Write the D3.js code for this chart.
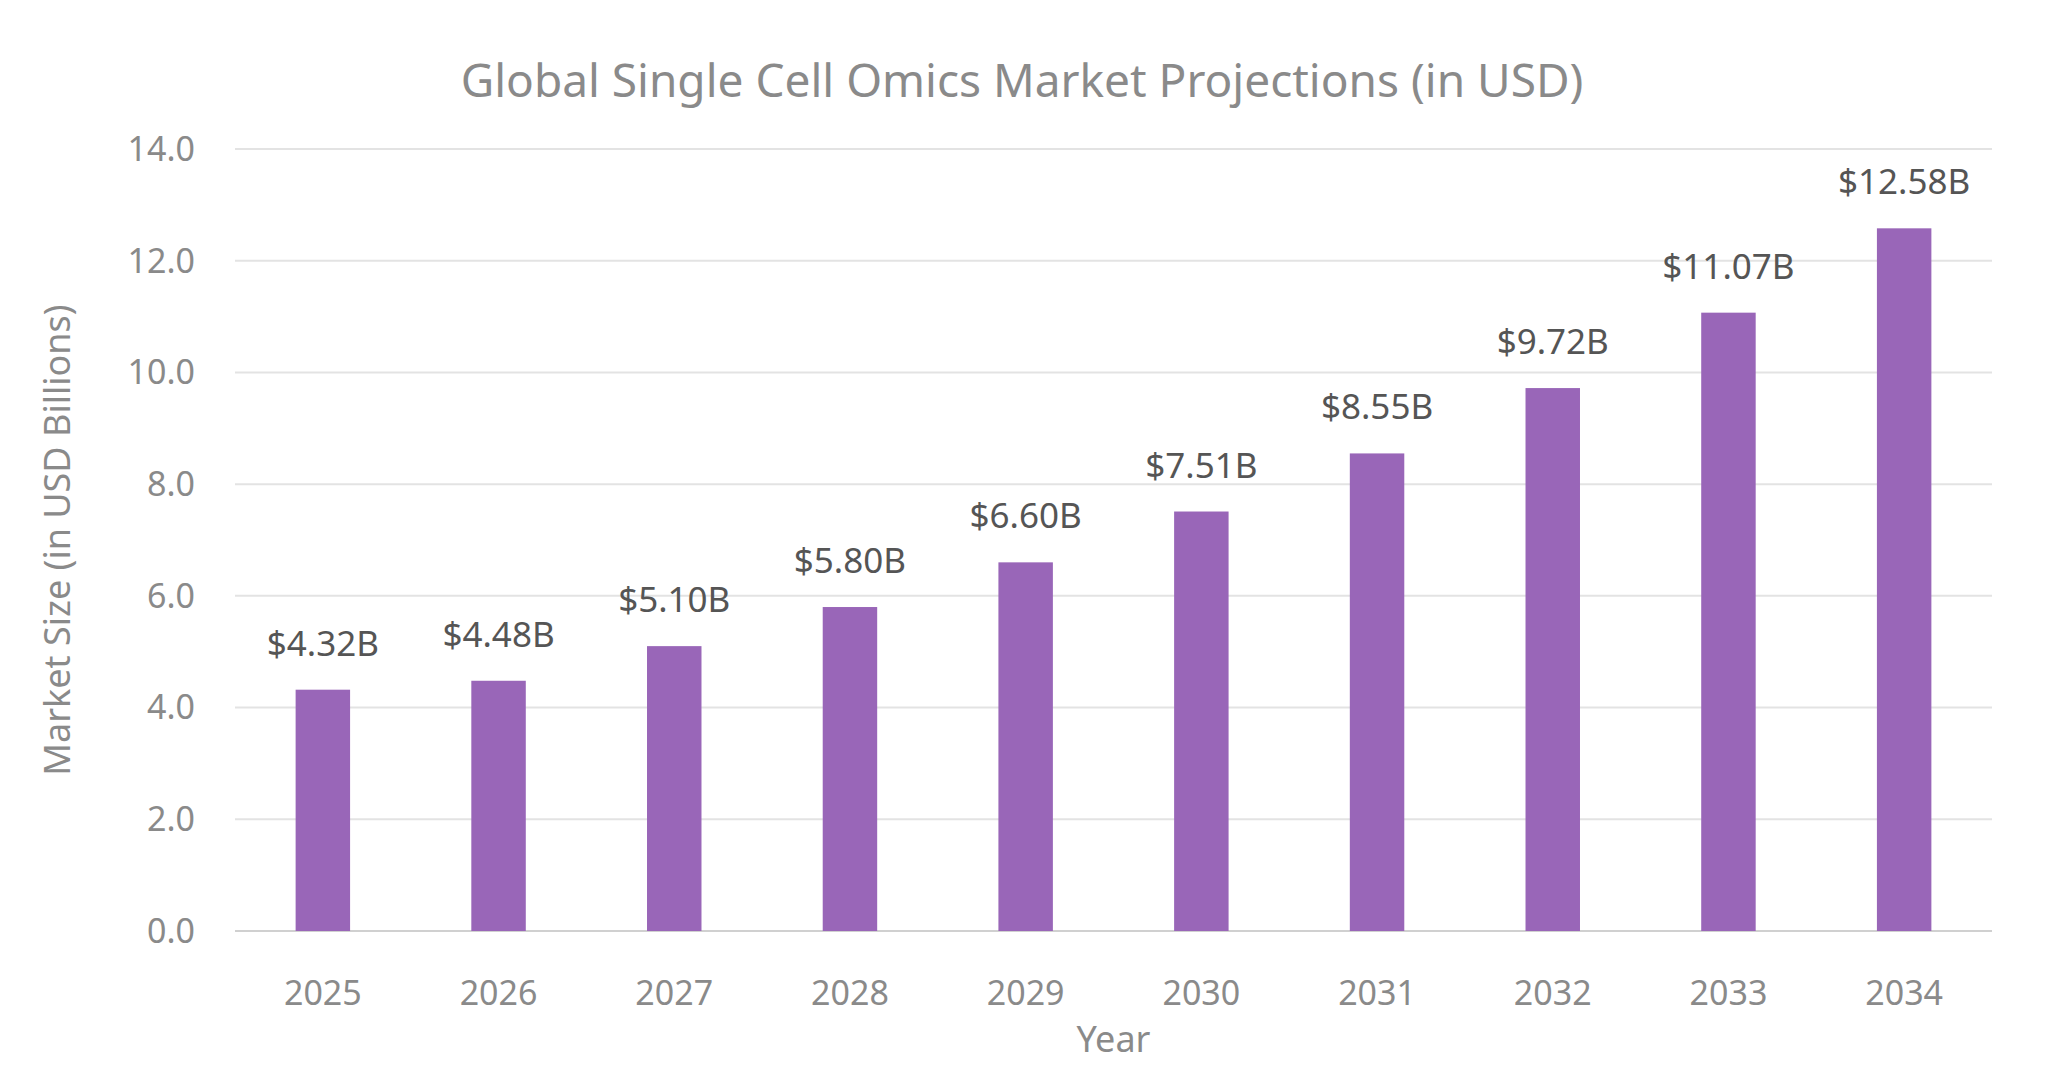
<!DOCTYPE html>
<html><head><meta charset="utf-8">
<script src="https://cdn.jsdelivr.net/npm/d3@7"></script>
<style>body{margin:0;background:#fff}svg{font-family:"Noto Sans",sans-serif}</style>
</head><body><svg id="c" width="2048" height="1091"></svg>
<script>
const years=["2025","2026","2027","2028","2029","2030","2031","2032","2033","2034"];
const values=[4.32,4.48,5.10,5.80,6.60,7.51,8.55,9.72,11.07,12.58];
const yTicks=[0,2,4,6,8,10,12,14];
const svg=d3.select("#c");
const L=235,R=1992,T=149,B=931;
const x=d3.scaleBand().domain(years).range([L,R]).paddingInner(0.69).paddingOuter(0.345);
const y=d3.scaleLinear().domain([0,14]).range([B,T]);
svg.append("g").selectAll("line").data(yTicks).join("line")
 .attr("x1",L).attr("x2",R).attr("y1",d=>y(d)).attr("y2",d=>y(d))
 .attr("stroke",d=>d===0?"#d0d0d0":"#e3e3e3").attr("stroke-width",2);
svg.append("g").selectAll("text").data(yTicks).join("text")
 .attr("x",L-40).attr("y",d=>y(d)).attr("dy","0.35em").attr("text-anchor","end")
 .attr("font-size",34).attr("fill","#8a8a8a").text(d=>d.toFixed(1));
svg.append("g").selectAll("rect").data(values).join("rect")
 .attr("x",(d,i)=>x(years[i])).attr("width",x.bandwidth())
 .attr("y",d=>y(d)).attr("height",d=>B-y(d)).attr("fill","#9966b8");
svg.append("g").selectAll("text").data(values).join("text")
 .attr("x",(d,i)=>x(years[i])+x.bandwidth()/2).attr("y",d=>y(d)-34)
 .attr("text-anchor","middle").attr("font-size",35).attr("fill","#555")
 .text(d=>"$"+d.toFixed(2)+"B");
svg.append("g").selectAll("text").data(years).join("text")
 .attr("x",d=>x(d)+x.bandwidth()/2).attr("y",1005).attr("text-anchor","middle")
 .attr("font-size",34).attr("fill","#8a8a8a").text(d=>d);
svg.append("text").attr("x",(L+R)/2).attr("y",1052).attr("text-anchor","middle")
 .attr("font-size",36).attr("fill","#8a8a8a").text("Year");
svg.append("text").attr("transform",`translate(70,${(T+B)/2}) rotate(-90)`).attr("text-anchor","middle")
 .attr("font-size",36).attr("fill","#8a8a8a").text("Market Size (in USD Billions)");
svg.append("text").attr("x",1022).attr("y",97).attr("text-anchor","middle")
 .attr("font-size",46).attr("fill","#8a8a8a").text("Global Single Cell Omics Market Projections (in USD)");
</script></body></html>
